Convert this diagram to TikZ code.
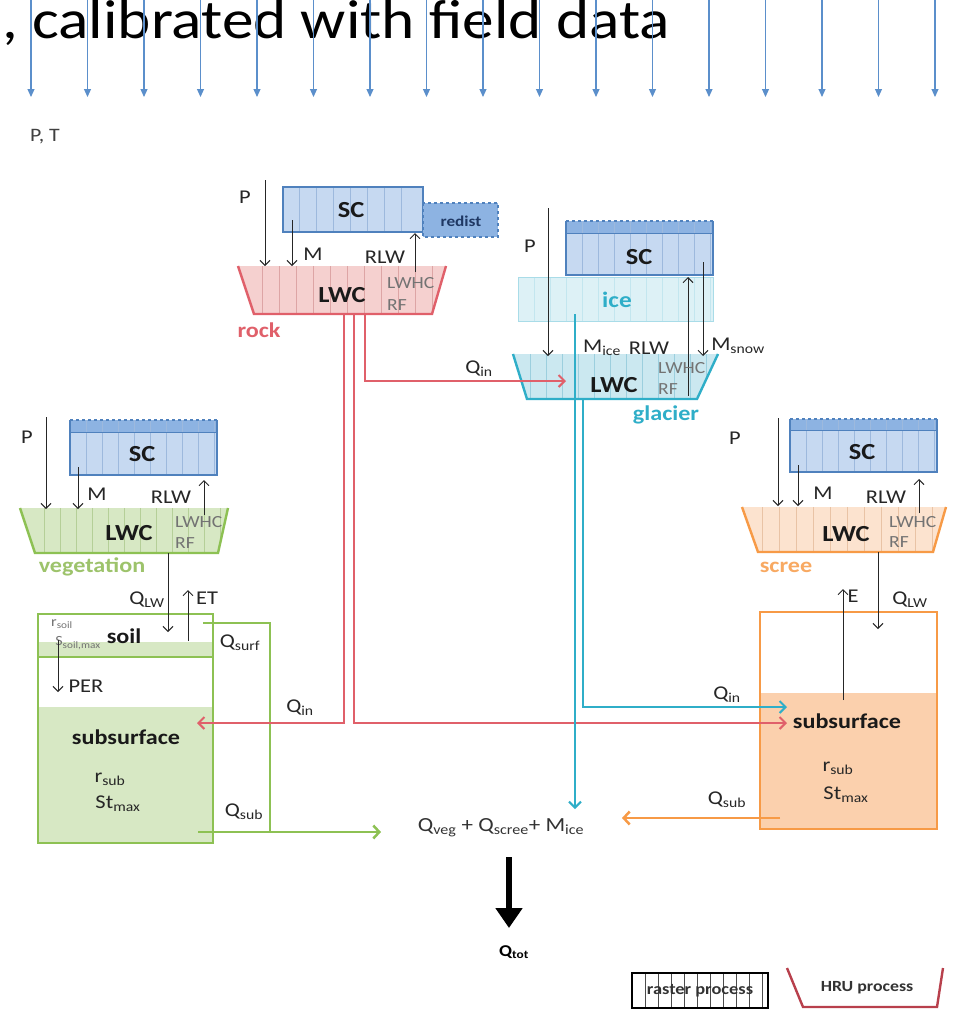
\documentclass[tikz,border=0pt]{standalone}
\usepackage{fontspec}
\setmainfont{Carlito}[FakeStretch=1.15]
\usetikzlibrary{arrows.meta}
\definecolor{scfill}{HTML}{C6D9F1}
\definecolor{scline}{HTML}{4F81BD}
\definecolor{scgrid}{HTML}{9DB9DD}
\definecolor{snowtop}{HTML}{8DB3E2}
\definecolor{navytxt}{HTML}{1F3864}
\definecolor{rockline}{HTML}{E0606A}
\definecolor{rockfill}{HTML}{F5D0CF}
\definecolor{rockgrid}{HTML}{DDA5A5}
\definecolor{glline}{HTML}{2FAEC8}
\definecolor{glfill}{HTML}{CBE8F0}
\definecolor{glgrid}{HTML}{9CCFDE}
\definecolor{icefill}{HTML}{DDF1F6}
\definecolor{iceline}{HTML}{A9DCE8}
\definecolor{vegline}{HTML}{8DC153}
\definecolor{vegfill}{HTML}{D7E8C4}
\definecolor{veggrid}{HTML}{B5CF98}
\definecolor{vegtext}{HTML}{9DC36B}
\definecolor{scrline}{HTML}{F79A46}
\definecolor{scrfill}{HTML}{FCE3CF}
\definecolor{scrgrid}{HTML}{E9C3A5}
\definecolor{scrsub}{HTML}{FBD0AD}
\definecolor{rainblue}{HTML}{5B8FCB}
\definecolor{hruline}{HTML}{B8404C}
\newcommand\fsz[1]{\fontsize{#1}{#1}\selectfont}
\newcommand\lsub[1]{\textsubscript{#1}}
\begin{document}
\begin{tikzpicture}[x=1pt,y=-1pt,
  lbl/.style={inner sep=0pt, font=\fsz{19.5}, text=black!85},
  blbl/.style={inner sep=0pt, font=\bfseries\fsz{23}, text=black!90},
  lwc/.style={inner sep=0pt, font=\bfseries\fsz{23}, text=black!90},
  sml/.style={inner sep=0pt, font=\fsz{17}, text=black!55, anchor=west},
  tny/.style={inner sep=0pt, font=\fsz{14}, text=black!55},
  hru/.style={inner sep=0pt, font=\bfseries\fsz{21}},
  flow/.style={draw=black!85, line width=1pt, -{Straight Barb[length=5pt,width=10pt]}},
  rain/.style={draw=rainblue, line width=1.1pt, -{Triangle[length=8pt,width=7pt]}},
  grd/.style={draw=scgrid, line width=0.6pt},
  scb/.style={draw=scline, line width=1.3pt},
  redflow/.style={draw=rockline, line width=2pt, -{Straight Barb[length=6pt,width=12pt]}},
  cyanflow/.style={draw=glline, line width=2pt, -{Straight Barb[length=6pt,width=12pt]}},
  greenflow/.style={draw=vegline, line width=2.5pt, -{Straight Barb[length=6pt,width=13pt]}},
  greenl/.style={draw=vegline, line width=2.5pt},
  orflow/.style={draw=scrline, line width=2.5pt, -{Straight Barb[length=6pt,width=13pt]}},
]
\useasboundingbox (0,0) rectangle (964,1010);
\fill[white] (0,0) rectangle (964,1010);

% title and rain
\node[anchor=base west, inner sep=0pt, font=\fsz{55}] (title) at (2,38) {, calibrated with field data};
\foreach \i in {0,...,16} {
  \pgfmathsetmacro\xx{31+56.5*\i}
  \coordinate (rt\i) at (\xx,-2);
  \coordinate (rb\i) at (\xx,97);
  \draw[rain] (rt\i) -- (rb\i);
}
\node[inner sep=0pt, font=\fsz{19}, text=black!75] (pt) at (45,137) {P, T};

% ================= ROCK =================
\fill[scfill] (283,187) rectangle (423,232);
\foreach \x in {299,316,...,415} \draw[grd] (\x,187) -- (\x,232);
\draw[scb] (283,187) rectangle (423,232);
\draw[fill=snowtop, draw=scline, dashed, line width=1.3pt] (423,203) rectangle (498,237);
\node[inner sep=0pt, font=\bfseries\fsz{15}, text=navytxt] (redist) at (461,221) {redist};
\node[blbl] (scR) at (351,210) {SC};
\begin{scope}
  \clip (238,266) -- (254,314) -- (432,314) -- (446,266) -- cycle;
  \fill[rockfill] (230,266) rectangle (450,314);
  \foreach \x in {262,279,...,440} \draw[draw=rockgrid, line width=0.6pt] (\x,266) -- (\x,314);
\end{scope}
\draw[rockline, line width=2.4pt] (238,266) -- (254,314) -- (432,314) -- (446,266);
\coordinate (rPs) at (265,180); \coordinate (rPe) at (265,266);
\draw[flow] (rPs) -- (rPe);
\node[lbl] (rP) at (245,197) {P};
\coordinate (rMs) at (292,220); \coordinate (rMe) at (292,266);
\draw[flow] (rMs) -- (rMe);
\node[lbl] (rM) at (313,254) {M};
\coordinate (rRs) at (415,272); \coordinate (rRe) at (415,233);
\draw[flow] (rRs) -- (rRe);
\node[lbl] (rRLW) at (385,257) {RLW};
\node[lwc] (rLWC) at (342,295) {LWC};
\node[sml] (rLWHC) at (387,283) {LWHC};
\node[sml] (rRF) at (387,305) {RF};
\node[inner sep=0pt, font=\bfseries\fsz{21}, text=rockline] (rock) at (259,330) {rock};

% ================= GLACIER =================
\fill[snowtop] (566,221) rectangle (713,233);
\fill[scfill] (566,233) rectangle (713,275);
\foreach \x in {582,598,...,712} \draw[grd] (\x,221) -- (\x,275);
\draw[scline, dashed, line width=1.3pt] (566,221) -- (713,221);
\draw[scb] (566,221) -- (566,275) -- (713,275) -- (713,221);
\draw[scb, line width=0.8pt] (566,233) -- (713,233);
\node[blbl] (scG) at (639,257) {SC};
\fill[icefill] (518,277) rectangle (713,321);
\foreach \x in {534,550,...,712} \draw[draw=iceline!70, line width=0.6pt] (\x,277) -- (\x,321);
\draw[draw=iceline, line width=1pt] (518,277) rectangle (713,321);
\node[inner sep=0pt, font=\bfseries\fsz{22}, text=glline] (ice) at (617,300) {ice};
\begin{scope}
  \clip (513,354) -- (527,399) -- (697,399) -- (718,354) -- cycle;
  \fill[glfill] (505,354) rectangle (720,399);
  \foreach \x in {530,546,...,716} \draw[draw=glgrid, line width=0.6pt] (\x,354) -- (\x,399);
\end{scope}
\draw[glline, line width=2.4pt] (513,354) -- (527,399) -- (697,399) -- (718,354);
\coordinate (gPs) at (548,208); \coordinate (gPe) at (548,356);
\draw[flow] (gPs) -- (gPe);
\node[lbl] (gP) at (530,246) {P};
\coordinate (gRs) at (688,396); \coordinate (gRe) at (688,277);
\draw[flow] (gRs) -- (gRe);
\node[lbl] (gRLW) at (649,348) {RLW};
\coordinate (gMs) at (703,262); \coordinate (gMe) at (703,356);
\draw[flow] (gMs) -- (gMe);
\node[lbl] (gMsnow) at (738,346) {M\lsub{snow}};
\node[lbl] (gMice) at (602,348) {M\lsub{ice}};
\node[lwc] (gLWC) at (614,385) {LWC};
\node[sml] (gLWHC) at (658,368) {LWHC};
\node[sml] (gRF) at (658,389) {RF};
\node[inner sep=0pt, font=\bfseries\fsz{21}, text=glline] (glacier) at (666,415) {glacier};

% ================= VEGETATION =================
\fill[snowtop] (70,420) rectangle (217,432);
\fill[scfill] (70,432) rectangle (217,475);
\foreach \x in {86,102,...,216} \draw[grd] (\x,420) -- (\x,475);
\draw[scline, dashed, line width=1.3pt] (70,420) -- (217,420);
\draw[scb] (70,420) -- (70,475) -- (217,475) -- (217,420);
\draw[scb, line width=0.8pt] (70,432) -- (217,432);
\node[blbl] (scV) at (142,454) {SC};
\begin{scope}
  \clip (20,508) -- (35,553) -- (218,553) -- (228,508) -- cycle;
  \fill[vegfill] (15,508) rectangle (230,553);
  \foreach \x in {44,60,...,226} \draw[draw=veggrid, line width=0.6pt] (\x,508) -- (\x,553);
\end{scope}
\draw[vegline, line width=2.4pt] (20,508) -- (35,553) -- (218,553) -- (228,508);
\coordinate (vPs) at (46,417); \coordinate (vPe) at (46,509);
\draw[flow] (vPs) -- (vPe);
\node[lbl] (vP) at (27,437) {P};
\coordinate (vMs) at (78,467); \coordinate (vMe) at (78,509);
\draw[flow] (vMs) -- (vMe);
\node[lbl] (vM) at (97,494) {M};
\coordinate (vRs) at (204,515); \coordinate (vRe) at (204,480);
\draw[flow] (vRs) -- (vRe);
\node[lbl] (vRLW) at (171,497) {RLW};
\node[lwc] (vLWC) at (129,533) {LWC};
\node[sml] (vLWHC) at (175,522) {LWHC};
\node[sml] (vRF) at (175,543) {RF};
\node[inner sep=0pt, font=\bfseries\fsz{21}, text=vegtext] (veg) at (92,567) {vegetation};

% soil / subsurface (vegetation)
\fill[vegfill] (38,642) rectangle (213,657);
\fill[vegfill] (38,707) rectangle (213,843);
\draw[vegline, line width=2.5pt] (38,614) rectangle (213,843);
\draw[vegline, line width=2.5pt] (38,657) -- (213,657);
\coordinate (vQs) at (168,553); \coordinate (vQe) at (168,632);
\draw[flow] (vQs) -- (vQe);
\node[lbl] (vQLW) at (147,600) {Q\lsub{LW}};
\coordinate (vEs) at (188,641); \coordinate (vEe) at (188,590);
\draw[flow] (vEs) -- (vEe);
\node[lbl] (vET) at (207,598) {ET};
\node[hru, text=black!90] (soil) at (124,636) {soil};
\node[tny] (rsoil) at (62,624) {r\lsub{soil}};
\node[tny] (ssoil) at (78,643) {S\lsub{soil,max}};
\coordinate (perS) at (58,640); \coordinate (perE) at (58,692);
\draw[flow] (perS) -- (perE);
\node[lbl] (per) at (86,686) {PER};
\node[hru, text=black!90] (vsub) at (126,737) {subsurface};
\node[lbl] (vrsub) at (110,779) {r\lsub{sub}};
\node[lbl] (vst) at (118,804) {St\lsub{max}};
\coordinate (qs1) at (203,623); \coordinate (qs2) at (270,623); \coordinate (qs3) at (270,832);
\draw[greenl] (qs1) -- (qs2) -- (qs3);
\node[lbl] (vQsurf) at (240,643) {Q\lsub{surf}};
\node[lbl] (vQsub) at (244,812) {Q\lsub{sub}};

% ================= SCREE =================
\fill[snowtop] (790,419) rectangle (937,430);
\fill[scfill] (790,430) rectangle (937,472);
\foreach \x in {806,822,...,936} \draw[grd] (\x,419) -- (\x,472);
\draw[scline, dashed, line width=1.3pt] (790,419) -- (937,419);
\draw[scb] (790,419) -- (790,472) -- (937,472) -- (937,419);
\draw[scb, line width=0.8pt] (790,430) -- (937,430);
\node[blbl] (scS) at (862,452) {SC};
\begin{scope}
  \clip (742,507) -- (758,552) -- (933,552) -- (946,507) -- cycle;
  \fill[scrfill] (735,507) rectangle (950,552);
  \foreach \x in {762,779,...,944} \draw[draw=scrgrid, line width=0.6pt] (\x,507) -- (\x,552);
\end{scope}
\draw[scrline, line width=2.4pt] (742,507) -- (758,552) -- (933,552) -- (946,507);
\coordinate (sPs) at (778,418); \coordinate (sPe) at (778,506);
\draw[flow] (sPs) -- (sPe);
\node[lbl] (sP) at (735,438) {P};
\coordinate (sMs) at (798,465); \coordinate (sMe) at (798,506);
\draw[flow] (sMs) -- (sMe);
\node[lbl] (sM) at (823,493) {M};
\coordinate (sRs) at (919,513); \coordinate (sRe) at (919,479);
\draw[flow] (sRs) -- (sRe);
\node[lbl] (sRLW) at (886,497) {RLW};
\node[lwc] (sLWC) at (846,534) {LWC};
\node[sml] (sLWHC) at (889,522) {LWHC};
\node[sml] (sRF) at (889,542) {RF};
\node[inner sep=0pt, font=\bfseries\fsz{21}, text=scrline!85] (scree) at (786,567) {scree};
% scree subsurface
\fill[scrsub] (760,693) rectangle (937,829);
\draw[scrline, line width=2.5pt] (760,612) rectangle (937,829);
\coordinate (sQs) at (878,552); \coordinate (sQe) at (878,629);
\draw[flow] (sQs) -- (sQe);
\node[lbl] (sQLW) at (910,600) {Q\lsub{LW}};
\coordinate (sEs) at (843,700); \coordinate (sEe) at (843,589);
\draw[flow] (sEs) -- (sEe);
\node[lbl] (sE) at (853,596) {E};
\node[hru, text=black!90] (ssub) at (847,721) {subsurface};
\node[lbl] (srsub) at (838,768) {r\lsub{sub}};
\node[lbl] (sst) at (846,795) {St\lsub{max}};

% ================= CONNECTORS =================
% rock outflows
\coordinate (ra1) at (365,314); \coordinate (ra2) at (365,381); \coordinate (ra3) at (566,381);
\draw[redflow] (ra1) -- (ra2) -- (ra3);
\node[lbl] (rQin) at (479,369) {Q\lsub{in}};
\coordinate (rb1) at (344,314); \coordinate (rb2) at (344,723); \coordinate (rb3) at (197,723);
\draw[redflow] (rb1) -- (rb2) -- (rb3);
\node[lbl] (rQin2) at (300,708) {Q\lsub{in}};
\coordinate (rc1) at (354,314); \coordinate (rc2) at (354,723); \coordinate (rc3) at (787,723);
\draw[redflow] (rc1) -- (rc2) -- (rc3);
% glacier outflows
\coordinate (ga1) at (575,314); \coordinate (ga2) at (575,809);
\draw[cyanflow] (ga1) -- (ga2);
\coordinate (gb1) at (583,399); \coordinate (gb2) at (583,707); \coordinate (gb3) at (787,707);
\draw[cyanflow] (gb1) -- (gb2) -- (gb3);
\node[lbl] (gQin) at (727,695) {Q\lsub{in}};
% vegetation Q_sub
\coordinate (vs1) at (198,832); \coordinate (vs2) at (381,832);
\draw[greenflow] (vs1) -- (vs2);
% scree Q_sub
\coordinate (so1) at (780,818); \coordinate (so2) at (622,818);
\draw[orflow] (so1) -- (so2);
\node[lbl] (sQsub) at (727,800) {Q\lsub{sub}};

% sum and total
\node[inner sep=0pt, font=\fsz{20}, text=black!80] (sum) at (501,828) {Q\lsub{veg} + Q\lsub{scree}+ M\lsub{ice}};
\coordinate (ta) at (509,857); \coordinate (tb) at (509,928);
\draw[line width=6pt, -{Triangle[length=20pt,width=26pt]}] (ta) -- (tb);
\node[inner sep=0pt, font=\bfseries\fsz{16.5}] (qtot) at (514,952) {Q\lsub{tot}};

% legend
\foreach \x in {645,658,...,766} \draw[black!70, line width=0.6pt] (\x,973) -- (\x,1008);
\draw[black, line width=1.2pt] (632,973) rectangle (768,1008);
\node[inner sep=1pt, font=\bfseries\fsz{16}, text=black!80] (rasterlg) at (700,991) {raster process};
\draw[hruline, line width=2.4pt] (787,968) -- (803,1007) -- (937,1007) -- (943,968);
\node[inner sep=0pt, font=\bfseries\fsz{15.5}, text=black!80] (hrulg) at (867,988) {HRU process};
\end{tikzpicture}
\end{document}
